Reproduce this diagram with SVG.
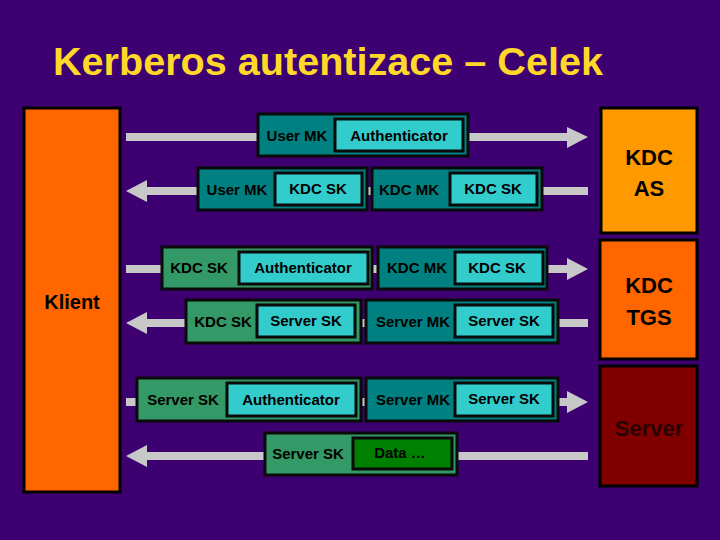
<svg xmlns="http://www.w3.org/2000/svg" width="720" height="540" viewBox="0 0 720 540">
<defs>
<style>
.bg{fill:#3c0070}
.title{font-family:"Liberation Sans",Arial,sans-serif;font-weight:bold;font-size:38px;fill:#ffd82a}
.party{stroke:#000;stroke-width:3}
.big{font-family:"Liberation Sans",Arial,sans-serif;font-weight:bold;font-size:22px;fill:#000;text-anchor:middle}
.msg{stroke:#0a0a0a;stroke-width:3}
.teal{fill:#008080}
.green{fill:#339966}
.inner{fill:#33cccc;stroke:#0a0a0a;stroke-width:3}
.data{fill:#008000;stroke:#0a0a0a;stroke-width:3}
.t{font-family:"Liberation Sans",Arial,sans-serif;font-weight:bold;font-size:15px;fill:#000;text-anchor:middle}
.line{stroke:#c8c8c8;stroke-width:8;fill:none}
.head{fill:#c8c8c8}
</style>
</defs>
<rect class="bg" x="0" y="0" width="720" height="540"/>
<text class="title" x="53" y="75" textLength="550" lengthAdjust="spacingAndGlyphs">Kerberos autentizace – Celek</text>

<g id="connectors">
<line class="line" x1="126" y1="137" x2="570" y2="137"/>
<polygon class="head" points="567,127 588,137 567,148"/>
<line class="line" x1="144" y1="191" x2="588" y2="191"/>
<polygon class="head" points="147,180 126,191 147,202"/>
<line class="line" x1="126" y1="269" x2="570" y2="269"/>
<polygon class="head" points="567,258 588,269 567,280"/>
<line class="line" x1="144" y1="323" x2="588" y2="323"/>
<polygon class="head" points="147,312 126,323 147,334"/>
<line class="line" x1="126" y1="402" x2="570" y2="402"/>
<polygon class="head" points="567,391 588,402 567,413"/>
<line class="line" x1="144" y1="456" x2="588" y2="456"/>
<polygon class="head" points="147,445 126,456 147,467"/>
</g>

<g id="klient">
<rect class="party" x="24" y="108" width="96" height="384" fill="#ff6600"/>
<text class="big" x="72" y="309" style="font-size:20px">Klient</text>
</g>
<g id="kdc-as">
<rect class="party" x="601" y="108" width="96" height="125" fill="#ff9900"/>
<text class="big" x="649" y="165">KDC</text>
<text class="big" x="649" y="196">AS</text>
</g>
<g id="kdc-tgs">
<rect class="party" x="600" y="240" width="97" height="119" fill="#ff6600"/>
<text class="big" x="649" y="293">KDC</text>
<text class="big" x="649" y="325">TGS</text>
</g>
<g id="server">
<rect class="party" x="600" y="366" width="97" height="120" fill="#800000"/>
<text class="big" x="649" y="436" style="fill:#2a0000">Server</text>
</g>

<g id="msg1">
<rect class="msg teal" x="258" y="114" width="210" height="42"/>
<rect class="inner" x="335" y="119" width="128" height="32"/>
<text class="t" x="297" y="141">User MK</text>
<text class="t" x="399" y="141">Authenticator</text>
</g>
<g id="msg2a">
<rect class="msg teal" x="198" y="168" width="169" height="42"/>
<rect class="inner" x="275" y="173" width="87" height="32"/>
<text class="t" x="237" y="195">User MK</text>
<text class="t" x="318" y="194">KDC SK</text>
</g>
<g id="msg2b">
<rect class="msg teal" x="372" y="168" width="170" height="42"/>
<rect class="inner" x="450" y="173" width="87" height="32"/>
<text class="t" x="409" y="195">KDC MK</text>
<text class="t" x="493" y="194">KDC SK</text>
</g>
<g id="msg3a">
<rect class="msg green" x="162" y="247" width="210" height="42"/>
<rect class="inner" x="239" y="252" width="129" height="32"/>
<text class="t" x="199" y="273">KDC SK</text>
<text class="t" x="303" y="273">Authenticator</text>
</g>
<g id="msg3b">
<rect class="msg teal" x="378" y="247" width="169" height="42"/>
<rect class="inner" x="455" y="252" width="88" height="32"/>
<text class="t" x="417" y="273">KDC MK</text>
<text class="t" x="497" y="273">KDC SK</text>
</g>
<g id="msg4a">
<rect class="msg green" x="186" y="300" width="175" height="43"/>
<rect class="inner" x="257" y="305" width="98" height="32"/>
<text class="t" x="223" y="327">KDC SK</text>
<text class="t" x="306" y="326">Server SK</text>
</g>
<g id="msg4b">
<rect class="msg teal" x="366" y="300" width="192" height="43"/>
<rect class="inner" x="455" y="305" width="98" height="32"/>
<text class="t" x="413" y="327">Server MK</text>
<text class="t" x="504" y="326">Server SK</text>
</g>
<g id="msg5a">
<rect class="msg green" x="137" y="378" width="224" height="43"/>
<rect class="inner" x="227" y="383" width="129" height="33"/>
<text class="t" x="183" y="405">Server SK</text>
<text class="t" x="291" y="405">Authenticator</text>
</g>
<g id="msg5b">
<rect class="msg teal" x="366" y="378" width="192" height="43"/>
<rect class="inner" x="455" y="383" width="98" height="33"/>
<text class="t" x="413" y="405">Server MK</text>
<text class="t" x="504" y="404">Server SK</text>
</g>
<g id="msg6">
<rect class="msg green" x="265" y="433" width="192" height="42"/>
<rect class="data" x="353" y="438" width="99" height="31"/>
<text class="t" x="308" y="459">Server SK</text>
<text class="t" x="400" y="458">Data …</text>
</g>
</svg>
